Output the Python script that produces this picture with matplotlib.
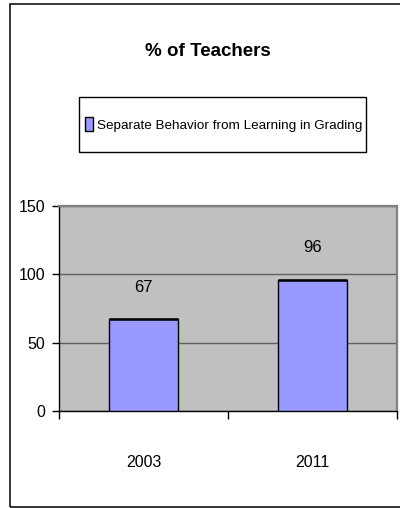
import matplotlib
matplotlib.use("Agg")
import matplotlib.pyplot as plt
from matplotlib.patches import Rectangle
from matplotlib.ticker import FixedLocator, NullFormatter

# Data
years = ["2003", "2011"]
values = [67, 96]
series_name = "Separate Behavior from Learning in Grading"
title = "% of Teachers"
y_ticks = [0, 50, 100, 150]

plt.rcParams["font.family"] = ["Liberation Sans", "DejaVu Sans"]

W, H = 400, 508
fig = plt.figure(figsize=(W / 100, H / 100), dpi=100)
fig.patch.set_facecolor("white")

# outer chart frame (runs off the right edge)
fig.add_artist(Rectangle((10 / W, 1 / H), 1.2, 503 / H, transform=fig.transFigure,
                         fill=False, edgecolor="black", linewidth=1.1))

ax = fig.add_axes([59 / W, (H - 411) / H, (397 - 59) / W, (411 - 206) / H])
ax.set_facecolor("#C0C0C0")

x = list(range(len(years)))
bar_w = 0.41
bars = ax.bar(x, values, width=bar_w, color="#9999FF", edgecolor="black",
              linewidth=1.0, zorder=3)
# heavier top edge on each bar
for b, v in zip(bars, values):
    ax.hlines(v, b.get_x(), b.get_x() + b.get_width(), colors="black",
              linewidth=1.8, zorder=4)

ax.set_xlim(-0.5, len(years) - 0.5)
ax.set_ylim(0, 150)
ax.set_yticks(y_ticks)
ax.set_yticklabels([str(t) for t in y_ticks])
ax.yaxis.grid(True, color="#606060", linewidth=1.0, zorder=1)
ax.set_axisbelow(True)

ax.set_xticks(x)
ax.set_xticklabels(years)
ax.xaxis.set_minor_locator(FixedLocator([i - 0.5 for i in range(len(years) + 1)]))
ax.xaxis.set_minor_formatter(NullFormatter())
ax.tick_params(axis="x", which="major", length=0, pad=32, labelsize=11.5)
ax.tick_params(axis="x", which="minor", length=6, width=1, color="black", direction="out")
ax.tick_params(axis="y", length=5, width=1, color="black", pad=5, labelsize=11.5)

for side in ("left", "bottom"):
    ax.spines[side].set_color("black")
    ax.spines[side].set_linewidth(1.0)
for side in ("top", "right"):
    ax.spines[side].set_color("#808080")
    ax.spines[side].set_linewidth(1.6)

for b, v in zip(bars, values):
    ax.annotate(str(v), (b.get_x() + b.get_width() / 2, v), xytext=(0, 23),
                textcoords="offset points", ha="center", va="center", fontsize=12)

fig.text(208 / W, 1 - 51 / H, title, ha="center", va="center",
         fontsize=13.5, fontweight="bold")

# legend box
fig.add_artist(Rectangle((79 / W, 1 - 152 / H), (366 - 79) / W, (152 - 97) / H,
                         transform=fig.transFigure, facecolor="white",
                         edgecolor="black", linewidth=1.0))
leg = fig.legend([bars[0]], [series_name], loc="center left",
                 bbox_to_anchor=(85 / W, 1 - 124.5 / H),
                 bbox_transform=fig.transFigure, fontsize=9.7, frameon=False,
                 handlelength=0.6, handleheight=1.15, handletextpad=0.3,
                 borderpad=0, borderaxespad=0)

fig.savefig("out.png", dpi=100)
